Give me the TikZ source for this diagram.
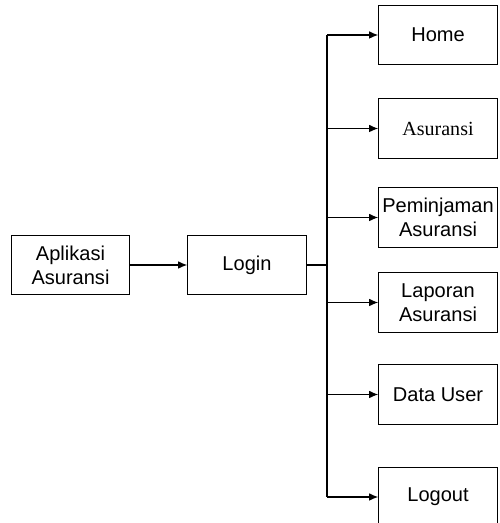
\documentclass[tikz,border=0pt]{standalone}
\usepackage{fontspec}
\setmainfont{Liberation Sans}
\newfontfamily\timesfont{Liberation Serif}
\usetikzlibrary{shapes,arrows.meta,positioning,calc}

\begin{document}
\begin{tikzpicture}[
    menu/.style={rectangle, draw, line width=0.6pt, minimum width=2.37cm, minimum height=1.19cm, inner xsep=1pt, align=center, font=\fontsize{11.4}{13.6}\selectfont},
    link/.style={line width=0.6pt},
    >={Latex[length=1.8mm,width=1.5mm]}
]
    \useasboundingbox (0,0) rectangle (10,10.46);

    \node[menu] (app) at (1.41,5.16) {Aplikasi\\Asuransi};
    \node[menu] (login) at (4.94,5.16) {Login};

    \node[menu] (home) at (8.76,9.76) {Home};
    \node[menu] (asuransi) at (8.76,7.89) {\timesfont Asuransi};
    \node[menu] (pinjam) at (8.76,6.11) {Peminjaman\\Asuransi};
    \node[menu] (laporan) at (8.76,4.41) {Laporan\\Asuransi};
    \node[menu] (user) at (8.76,2.57) {Data User};
    \node[menu] (logout) at (8.76,0.52) {Logout};

    % Panah
    \draw[link, ->] (app) -- (login);
    \coordinate (split) at (6.54,5.16);
    \draw[link] (login.east) -- (split);
    \draw[link] (split |- home) -- (split |- logout);
    \draw[link, ->] (split |- home) -- (home);
    \draw[link, ->] (split |- asuransi) -- (asuransi);
    \draw[link, ->] (split |- pinjam) -- (pinjam);
    \draw[link, ->] (split |- laporan) -- (laporan);
    \draw[link, ->] (split |- user) -- (user);
    \draw[link, ->] (split |- logout) -- (logout);

\end{tikzpicture}
\end{document}
